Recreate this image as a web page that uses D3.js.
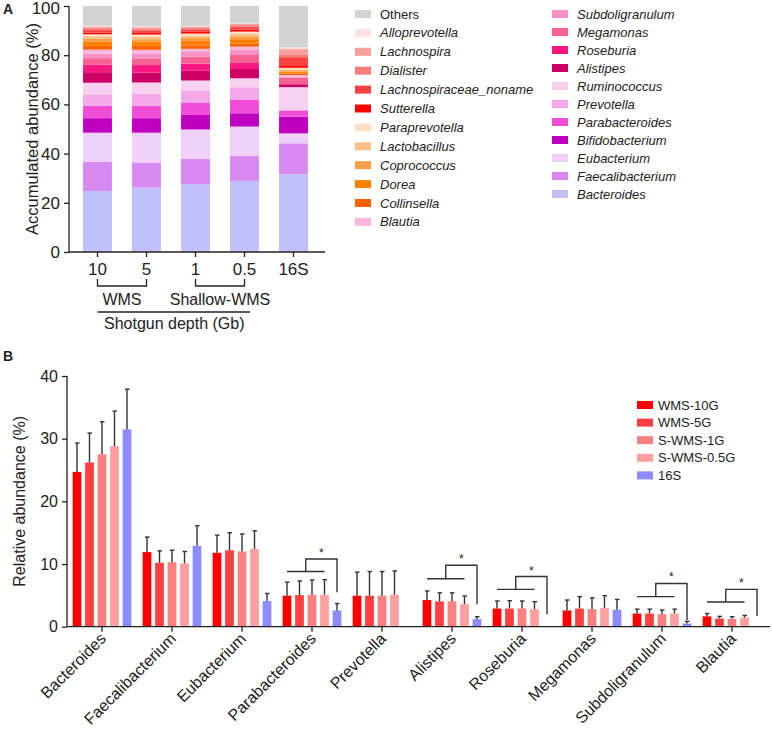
<!DOCTYPE html>
<html>
<head>
<meta charset="utf-8">
<script src="https://cdn.jsdelivr.net/npm/d3@7"></script>
<style>
  html, body { margin: 0; padding: 0; background: #fff; }
  svg { display: block; font-family: "Liberation Sans", Arial, Helvetica, sans-serif; }
</style>
</head>
<body>
<svg id="chart" width="772" height="729"></svg>
<script>
// ---------------- Panel A data ----------------
const taxa = ["Bacteroides","Faecalibacterium","Eubacterium","Bifidobacterium","Parabacteroides","Prevotella","Ruminococcus","Alistipes","Roseburia","Megamonas","Subdoligranulum","Blautia","Collinsella","Dorea","Coprococcus","Lactobacillus","Paraprevotella","Sutterella","Lachnospiraceae_noname","Dialister","Lachnospira","Alloprevotella","Others"];
const taxaColors = ["#c0c0fa","#d98af2","#efd0f8","#c000c0","#f04ed8","#f4a8e8","#f8d0f0","#cc0066","#f81880","#f86292","#f892c6","#f8b8de","#ff6000","#ff8000","#fd9d45","#fcc085","#fde0c6","#ff0000","#fa4040","#f87e7e","#fba0a0","#fde0e0","#d3d3d3"];
const samplesA = ["10","5","1","0.5","16S"];
const abund10G  = [24.8,11.8,11.9,5.9,5.0,4.7,4.7,4.3,3.0,2.7,1.8,1.7,1.5,1.8,1.0,1.1,0.8,0.7,1.0,0.8,0.5,0.4,8.1];
const abund5G   = [26.2,10.2,12.1,5.9,5.0,4.9,4.6,4.1,3.0,2.7,1.8,1.7,1.5,1.8,1.0,1.1,0.8,0.7,1.0,0.8,0.5,0.4,8.2];
const abund1G   = [27.5,10.3,12.0,5.9,5.1,4.9,4.0,4.0,2.9,2.8,1.9,1.3,1.4,1.8,1.2,1.0,0.8,0.7,1.0,0.6,0.5,0.3,8.1];
const abund05G  = [28.9,10.1,12.0,5.4,5.4,5.2,3.6,3.8,2.7,3.0,2.0,1.4,1.2,1.8,1.2,1.1,0.8,0.8,1.0,0.8,0.5,0.3,7.0];
const abund16S  = [31.6,12.6,4.0,6.8,2.6,0.0,9.4,1.2,0.0,2.6,0.5,0.6,0.6,0.8,0.6,0.4,0.6,0.7,3.6,1.2,2.1,0.8,16.7];
const ticksA = [0,20,40,60,80,100];
const legendCol1 = ["Others","Alloprevotella","Lachnospira","Dialister","Lachnospiraceae_noname","Sutterella","Paraprevotella","Lactobacillus","Coprococcus","Dorea","Collinsella","Blautia"];
const legendCol2 = ["Subdoligranulum","Megamonas","Roseburia","Alistipes","Ruminococcus","Prevotella","Parabacteroides","Bifidobacterium","Eubacterium","Faecalibacterium","Bacteroides"];

// ---------------- Panel B data ----------------
const generaB = ["Bacteroides","Faecalibacterium","Eubacterium","Parabacteroides","Prevotella","Alistipes","Roseburia","Megamonas","Subdoligranulum","Blautia"];
const seriesB = ["WMS-10G","WMS-5G","S-WMS-1G","S-WMS-0.5G","16S"];
const seriesColors = ["#ff0000","#ff4040","#ff8080","#ffa0a0","#8c8cff"];
const mean10G  = [24.7,11.9,11.8,4.95,4.95,4.25,2.9,2.6,2.1,1.65];
const mean5G   = [26.2,10.2,12.2,5.05,4.95,4.05,2.9,2.9,2.1,1.3];
const mean1G   = [27.5,10.3,12.0,5.1,4.95,4.05,2.9,2.8,2.0,1.25];
const mean05G  = [28.8,10.1,12.4,5.1,5.1,3.6,2.8,3.0,2.1,1.45];
const mean16S  = [31.5,12.9,4.1,2.6,null,1.2,null,2.7,0.5,null];
const sd10G    = [4.6,2.4,2.8,2.15,3.75,1.45,1.2,1.65,0.7,0.45];
const sd5G     = [4.7,1.9,2.8,2.25,3.85,1.35,1.25,1.9,0.7,0.35];
const sd1G     = [5.2,1.9,2.8,2.35,3.85,1.35,1.2,1.8,0.65,0.35];
const sd05G    = [5.6,1.9,2.9,2.4,3.8,1.3,1.2,1.95,0.7,0.35];
const sd16S    = [6.4,3.2,1.2,1.1,null,0.4,null,1.65,0.35,null];
const ticksB = [0,10,20,30,40];
// significance brackets (levels in % units)
const sigGroups = ["Parabacteroides","Alistipes","Roseburia","Subdoligranulum","Blautia"];
const sigLow    = [8.8,7.65,5.95,4.8,3.95];
const sigHigh   = [10.8,9.8,8.0,6.9,5.95];
const sigEnd    = [5.5,3.6,2.0,1.05,1.7];

// ---------------- Drawing ----------------
const svg = d3.select("#chart");
const FONT = 16;
const ink = "#222";

// ===== Panel A =====
const xA = d3.scaleBand().domain(samplesA).range([73, 318]).paddingInner(0.41).paddingOuter(0.205);
const yA = d3.scaleLinear().domain([0, 100]).range([252, 6]);
const abundRows = [abund10G, abund5G, abund1G, abund05G, abund16S];
const tableA = samplesA.map((s, i) => {
  const row = { sample: s };
  taxa.forEach((t, j) => row[t] = abundRows[i][j]);
  return row;
});
const stackA = d3.stack().keys(taxa)(tableA);
const colorA = d3.scaleOrdinal().domain(taxa).range(taxaColors);

const gA = svg.append("g");
gA.selectAll("g.layer").data(stackA).join("g")
  .attr("fill", d => colorA(d.key))
  .selectAll("rect").data(d => d).join("rect")
  .attr("x", d => xA(d.data.sample))
  .attr("width", xA.bandwidth())
  .attr("y", d => yA(d[1]))
  .attr("height", d => Math.max(0, yA(d[0]) - yA(d[1])));

// y axis A
const axYA = gA.append("g").attr("transform", "translate(69,0)")
  .call(d3.axisLeft(yA).tickValues(ticksA).tickSize(5).tickPadding(4));
axYA.select(".domain").attr("d", `M0,${yA(100)}V${yA(0)}`);
// x axis A
const axXA = gA.append("g").attr("transform", `translate(0,${yA(0)})`)
  .call(d3.axisBottom(xA).tickSize(5).tickPadding(6));
axXA.select(".domain").attr("d", "M69,0H325");
[axYA, axXA].forEach(a => {
  a.selectAll("text").attr("font-size", 17).attr("fill", ink).attr("font-family", "Liberation Sans, Arial, sans-serif");
  a.selectAll("line,path").attr("stroke", ink).attr("stroke-width", 1.3);
});
axYA.selectAll(".tick").filter(d => d === 100).select("text").attr("dy", "0.42em");

gA.append("text").attr("transform", `translate(38,${(yA(0)+yA(100))/2}) rotate(-90)`)
  .attr("text-anchor", "middle").attr("font-size", 16.5).attr("fill", ink)
  .text("Accumulated abundance (%)");

// brackets under A
const cA = s => xA(s) + xA.bandwidth() / 2;
function bracketA(a, b, label) {
  gA.append("path").attr("fill", "none").attr("stroke", ink).attr("stroke-width", 1.3)
    .attr("d", `M${cA(a)},279V286H${cA(b)}V279`);
  gA.append("text").attr("x", (cA(a) + cA(b)) / 2).attr("y", 305)
    .attr("text-anchor", "middle").attr("font-size", FONT).attr("fill", ink).text(label);
}
bracketA("10", "5", "WMS");
bracketA("1", "0.5", "Shallow-WMS");
gA.append("line").attr("x1", cA("10")).attr("x2", 250).attr("y1", 312).attr("y2", 312)
  .attr("stroke", ink).attr("stroke-width", 1.3);
gA.append("text").attr("x", 104).attr("y", 329).attr("font-size", FONT).attr("fill", ink)
  .text("Shotgun depth (Gb)");

// legend A
function legendA(items, x, y0, step) {
  const g = gA.append("g");
  items.forEach((t, i) => {
    const y = y0 + i * step;
    g.append("rect").attr("x", x).attr("y", y - 4).attr("width", 16).attr("height", 8).attr("fill", colorA(t));
    g.append("text").attr("x", x + 25).attr("y", y + 4.5).attr("font-size", 13)
      .attr("font-style", t === "Others" ? "normal" : "italic").attr("fill", ink).text(t);
  });
}
legendA(legendCol1, 355, 14, 18.9);
legendA(legendCol2, 552, 14, 18.0);

svg.append("text").attr("x", 3).attr("y", 14).attr("font-size", 14).attr("font-weight", "bold").attr("fill", ink).text("A");

// ===== Panel B =====
const gB = svg.append("g");
const x0 = d3.scaleBand().domain(generaB).range([67, 767]);
const x1 = d3.scaleBand().domain(seriesB).range([3.75, 66.25]).paddingInner(0.3).paddingOuter(0.15);
const yB = d3.scaleLinear().domain([0, 40]).range([626.7, 376]);
const colorB = d3.scaleOrdinal().domain(seriesB).range(seriesColors);
const means = [mean10G, mean5G, mean1G, mean05G, mean16S];
const sds = [sd10G, sd5G, sd1G, sd05G, sd16S];
const barsB = [];
generaB.forEach((g, i) => seriesB.forEach((s, j) => {
  if (means[j][i] != null) barsB.push({ genus: g, series: s, mean: means[j][i], sd: sds[j][i] });
}));
const bx = d => x0(d.genus) + x1(d.series);

gB.selectAll("rect.bar").data(barsB).join("rect")
  .attr("x", bx).attr("width", x1.bandwidth())
  .attr("y", d => yB(d.mean)).attr("height", d => yB(0) - yB(d.mean))
  .attr("fill", d => colorB(d.series));
// error bars
const eb = gB.append("g").attr("stroke", "#333").attr("stroke-width", 1.4);
eb.selectAll("line.v").data(barsB).join("line")
  .attr("x1", d => bx(d) + x1.bandwidth() / 2).attr("x2", d => bx(d) + x1.bandwidth() / 2)
  .attr("y1", d => yB(d.mean)).attr("y2", d => yB(d.mean + d.sd));
eb.selectAll("line.c").data(barsB).join("line")
  .attr("x1", d => bx(d) + x1.bandwidth() / 2 - 2).attr("x2", d => bx(d) + x1.bandwidth() / 2 + 2.5)
  .attr("y1", d => yB(d.mean + d.sd)).attr("y2", d => yB(d.mean + d.sd));

// axes B
const axYB = gB.append("g").attr("transform", "translate(67,0)")
  .call(d3.axisLeft(yB).tickValues(ticksB).tickSize(5).tickPadding(4));
axYB.select(".domain").attr("d", `M0,${yB(40)}V${yB(0)}`);
const axXB = gB.append("g").attr("transform", `translate(0,${yB(0)})`)
  .call(d3.axisBottom(x0).tickSize(5).tickFormat(""));
axXB.select(".domain").attr("d", "M67,0H770");
[axYB, axXB].forEach(a => {
  a.selectAll("text").attr("font-size", 16).attr("fill", ink).attr("font-family", "Liberation Sans, Arial, sans-serif");
  a.selectAll("line,path").attr("stroke", ink).attr("stroke-width", 1.3);
});
gB.selectAll("text.xl").data(generaB).join("text")
  .attr("class", "xl")
  .attr("transform", d => `translate(${x0(d) + x0.bandwidth() / 2 + 5},${yB(0) + 13}) rotate(-45)`)
  .attr("text-anchor", "end").attr("font-size", 16).attr("fill", ink).text(d => d);

gB.append("text").attr("transform", `translate(25,${(yB(0) + yB(40)) / 2}) rotate(-90)`)
  .attr("text-anchor", "middle").attr("font-size", FONT).attr("fill", ink)
  .text("Relative abundance (%)");

// significance brackets
sigGroups.forEach((g, i) => {
  const c = s => x0(g) + x1(s) + x1.bandwidth() / 2;
  const xa = c(seriesB[0]), xb = c(seriesB[3]), xm = (xa + xb) / 2, xe = c(seriesB[4]);
  gB.append("path").attr("fill", "none").attr("stroke", "#333").attr("stroke-width", 1.4)
    .attr("d", `M${xa},${yB(sigLow[i])}H${xb}M${xm},${yB(sigLow[i])}V${yB(sigHigh[i])}H${xe}V${yB(sigEnd[i])}`);
  gB.append("text").attr("x", (xm + xe) / 2).attr("y", yB(sigHigh[i]) - 2)
    .attr("text-anchor", "middle").attr("font-size", 12).attr("fill", ink).text("*");
});

// legend B
seriesB.forEach((s, i) => {
  const y = 405 + i * 17.6;
  gB.append("rect").attr("x", 637).attr("y", y - 4).attr("width", 16).attr("height", 8).attr("fill", colorB(s));
  gB.append("text").attr("x", 658).attr("y", y + 4.5).attr("font-size", 13).attr("fill", ink).text(s);
});

svg.append("text").attr("x", 3).attr("y", 361).attr("font-size", 14).attr("font-weight", "bold").attr("fill", ink).text("B");
</script>
</body>
</html>
